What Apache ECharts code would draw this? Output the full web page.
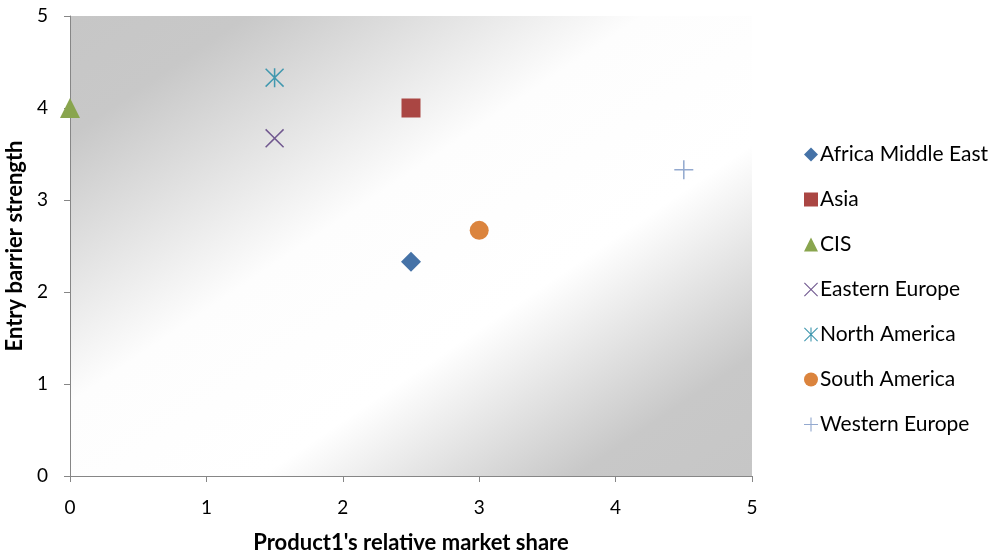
<!DOCTYPE html>
<html>
<head>
<meta charset="utf-8">
<script src="https://cdn.jsdelivr.net/npm/echarts@6/dist/echarts.min.js"></script>
<style>
  html, body { margin: 0; padding: 0; background: #fff; }
  #chart { width: 996px; height: 555px; }
</style>
</head>
<body>
<div id="chart"></div>
<script>
// Regions plotted by relative market share (x) against entry barrier strength (y)
const regions = ['Africa Middle East', 'Asia', 'CIS', 'Eastern Europe', 'North America', 'South America', 'Western Europe'];
const marketShare = [2.5, 2.5, 0, 1.5, 1.5, 3, 4.5];
const entryBarrier = [2.33, 4, 4, 3.67, 4.33, 2.67, 3.33];
const xTicks = [0, 1, 2, 3, 4, 5];
const yTicks = [0, 1, 2, 3, 4, 5];

const colors = ['#4572A7', '#AA4643', '#89A54E', '#71588F', '#4198AF', '#DB843D', '#93A9CF'];

// Line-style markers drawn as thin filled outlines
const crossPath = 'path://M0,1.1 L1.1,0 L10,8.9 L18.9,0 L20,1.1 L11.1,10 L20,18.9 L18.9,20 L10,11.1 L1.1,20 L0,18.9 L8.9,10 Z';
const starPath = crossPath.replace(' Z', ' Z M9.2,0 L10.8,0 L10.8,20 L9.2,20 Z');
const plusPath = 'path://M9.2,0 L10.8,0 L10.8,9.2 L20,9.2 L20,10.8 L10.8,10.8 L10.8,20 L9.2,20 L9.2,10.8 L0,10.8 L0,9.2 L9.2,9.2 Z';
const symbols = ['diamond', 'rect', 'triangle', crossPath, starPath, 'circle', plusPath];
const sizes = [20, 19, 20, 19, 19, 19, 19];

const grid = { left: 70, top: 16, right: 244, bottom: 79 };
const gw = 996 - grid.left - grid.right;
const gh = 555 - grid.top - grid.bottom;
// Diagonal shading: grey corners top-left and bottom-right, white band along the other diagonal
const ux = gh, uy = gw;
const ulen = Math.sqrt(ux * ux + uy * uy);
const half = (gw / 2 * ux + gh / 2 * uy) / ulen;
const cx = grid.left + gw / 2, cy = grid.top + gh / 2;
const bg = new echarts.graphic.LinearGradient(
  cx - half * ux / ulen, cy - half * uy / ulen,
  cx + half * ux / ulen, cy + half * uy / ulen,
  [
    { offset: 0, color: '#c6c6c6' },
    { offset: 0.13, color: '#c8c8c8' },
    { offset: 0.42, color: '#fdfdfd' },
    { offset: 0.64, color: '#ffffff' },
    { offset: 0.87, color: '#c8c8c8' },
    { offset: 1, color: '#c6c6c6' }
  ], true);

const font = 'Lato, "Liberation Sans", sans-serif';
const axisCommon = {
  type: 'value',
  min: 0, max: 5, interval: 1,
  axisLine: { show: true, onZero: false, lineStyle: { color: '#868686', width: 1 } },
  axisTick: { show: true, length: 6, lineStyle: { color: '#868686' } },
  splitLine: { show: false },
  axisLabel: { color: '#000', fontSize: 19, fontFamily: font, margin: 22 },
  nameLocation: 'middle',
  nameTextStyle: { color: '#000', fontSize: 22, fontWeight: 'bold', fontFamily: font }
};

const chart = echarts.init(document.getElementById('chart'), null, { renderer: 'canvas' });
chart.setOption({
  animation: false,
  backgroundColor: '#fff',
  color: colors,
  grid: Object.assign({
    show: true, backgroundColor: bg, borderWidth: 0,
    containLabel: false, outerBoundsMode: 'none'
  }, grid),
  legend: {
    orient: 'vertical',
    left: 799,
    top: 139,
    itemWidth: 14,
    itemHeight: 14,
    itemGap: 24,
    textStyle: { color: '#000', fontSize: 21, fontFamily: font, padding: [0, 0, 0, -3] },
    data: regions
  },
  xAxis: Object.assign({}, axisCommon, {
    name: "Product1's relative market share",
    nameGap: 56,
    axisLabel: Object.assign({}, axisCommon.axisLabel, {
      formatter: v => xTicks.includes(v) ? String(v) : ''
    })
  }),
  yAxis: Object.assign({}, axisCommon, {
    name: 'Entry barrier strength',
    nameGap: 41,
    axisLabel: Object.assign({}, axisCommon.axisLabel, {
      formatter: v => yTicks.includes(v) ? String(v) : ''
    })
  }),
  series: regions.map((name, i) => ({
    name,
    type: 'scatter',
    symbol: symbols[i],
    symbolSize: sizes[i],
    clip: false,
    itemStyle: { color: colors[i], opacity: 1 },
    data: [[marketShare[i], entryBarrier[i]]]
  }))
});
</script>
</body>
</html>
